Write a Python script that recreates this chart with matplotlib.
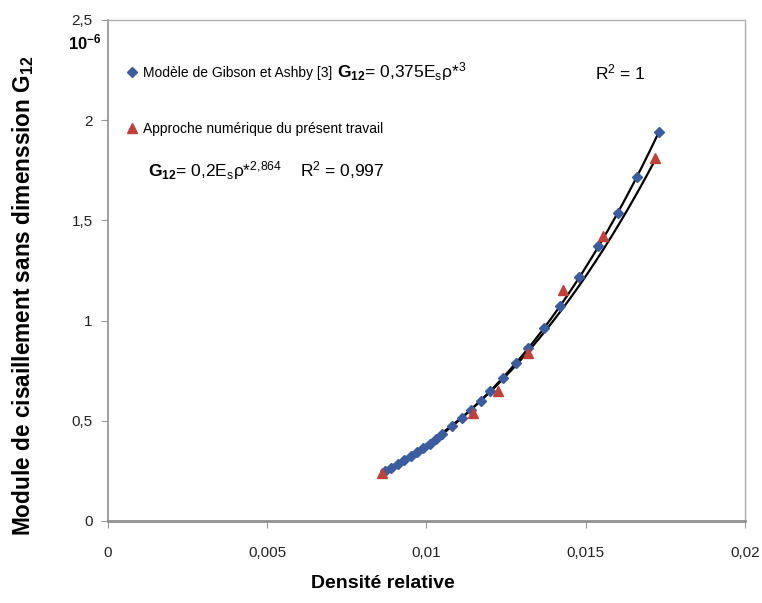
import numpy as np
import matplotlib
matplotlib.use("Agg")
import matplotlib.pyplot as plt
from matplotlib.ticker import FuncFormatter

# Gibson & Ashby model points (relative density, G12 x 1e-6)
rho_ga = [0.0087, 0.0089, 0.0091, 0.0093, 0.0095, 0.0097, 0.0099, 0.0101, 0.0103,
          0.0105, 0.0108, 0.0111, 0.0114, 0.0117, 0.0120, 0.0124, 0.0128, 0.0132,
          0.0137, 0.0142, 0.0148, 0.0154, 0.0160, 0.0166, 0.0173]
g_ga = [0.247, 0.264, 0.283, 0.302, 0.322, 0.342, 0.364, 0.386, 0.410,
        0.434, 0.472, 0.513, 0.556, 0.601, 0.648, 0.715, 0.786, 0.863,
        0.964, 1.074, 1.216, 1.370, 1.536, 1.715, 1.942]

# numerical approach points
rho_num = [0.0086, 0.01147, 0.01225, 0.01319, 0.01428, 0.01553, 0.01716]
g_num = [0.24, 0.54, 0.65, 0.84, 1.15, 1.42, 1.81]

# trendline labels printed on the chart: G12 = a * Es * rho*^b
label_ga = ("0,375", 3.0, "1")
label_num = ("0,2", 2.864, "0,997")

xticks = [0, 0.005, 0.01, 0.015, 0.02]
yticks = [0, 0.5, 1, 1.5, 2, 2.5]

plt.rcParams["font.family"] = ["Liberation Sans", "DejaVu Sans"]
plt.rcParams["mathtext.fontset"] = "custom"
plt.rcParams["mathtext.rm"] = "Liberation Sans"
plt.rcParams["mathtext.it"] = "Liberation Sans:italic"
plt.rcParams["mathtext.bf"] = "Liberation Sans:bold"


def power_trend(x, y, b):
    # power trendline with the printed exponent, coefficient fitted to the points
    x = np.asarray(x)
    y = np.asarray(y)
    ln_a = np.mean(np.log(y) - b * np.log(x))
    xs = np.linspace(x.min(), x.max(), 200)
    return xs, np.exp(ln_a) * xs ** b


fig = plt.figure(figsize=(7.62, 6.03), dpi=100)
ax = fig.add_axes([0.1417, 0.136, 0.836, 0.831])

xs, ys = power_trend(rho_ga, g_ga, label_ga[1])
ax.plot(xs, ys, color="black", lw=1.6, zorder=2)
xs, ys = power_trend(rho_num, g_num, label_num[1])
ax.plot(xs, ys, color="black", lw=1.6, zorder=2)

h1, = ax.plot(rho_ga, g_ga, ls="none", marker="D", ms=5, color="#3b5c9e", zorder=3)
h2, = ax.plot(rho_num, g_num, ls="none", marker="^", ms=7, color="#c0413a", zorder=3)

ax.set_xlim(0, 0.02)
ax.set_ylim(0, 2.5)
ax.set_xticks(xticks)
ax.set_yticks(yticks)
fmt = FuncFormatter(lambda v, p: ("%g" % v).replace(".", ","))
ax.xaxis.set_major_formatter(fmt)
ax.yaxis.set_major_formatter(fmt)
ax.tick_params(axis="both", direction="out", length=5, color="#999999",
               labelsize=11, labelcolor="#222222", pad=6)
ax.tick_params(axis="x", pad=13)

for s in ["top", "right"]:
    ax.spines[s].set_color("#b0b0b0")
    ax.spines[s].set_linewidth(1.0)
ax.spines["left"].set_color("#909090")
ax.spines["left"].set_linewidth(1.2)
ax.spines["bottom"].set_color("#909090")
ax.spines["bottom"].set_linewidth(2.0)

fig.text(0.503, 0.033, "Densité relative", ha="center", va="center",
         fontsize=14, fontweight="bold")
fig.text(0.030, 0.509, "Module de cisaillement sans dimenssion G$_{\\mathbf{12}}$",
         rotation=90, ha="center", va="center", fontsize=16.3, fontweight="bold")
fig.text(0.111, 0.93, "10$^{\\mathbf{-6}}$", ha="center", va="center",
         fontsize=12, fontweight="bold")

ax.legend([h1, h2], ["Modèle de Gibson et Ashby [3]", "Approche numérique du présent travail"],
          loc="upper left", bbox_to_anchor=(0.018, 0.922), frameon=False,
          handlelength=0.8, handletextpad=0.4, labelspacing=3.0, fontsize=10,
          borderpad=0)


def exp_txt(b):
    return ("%g" % b).replace(".", "{,}")


ax.text(0.36, 0.896,
        "$\\mathbf{G}_{\\mathbf{12}}$= %s$\\mathrm{E_s}$ρ*$^{%s}$" % (label_ga[0], exp_txt(label_ga[1])),
        transform=ax.transAxes, fontsize=12.5, va="center")
ax.text(0.765, 0.896, "R$^2$ = %s" % label_ga[2], transform=ax.transAxes,
        fontsize=12.5, va="center")
ax.text(0.063, 0.70,
        "$\\mathbf{G}_{\\mathbf{12}}$= %s$\\mathrm{E_s}$ρ*$^{%s}$    R$^2$ = %s"
        % (label_num[0], exp_txt(label_num[1]), label_num[2]),
        transform=ax.transAxes, fontsize=12.5, va="center")

fig.savefig("out.png", dpi=100)
